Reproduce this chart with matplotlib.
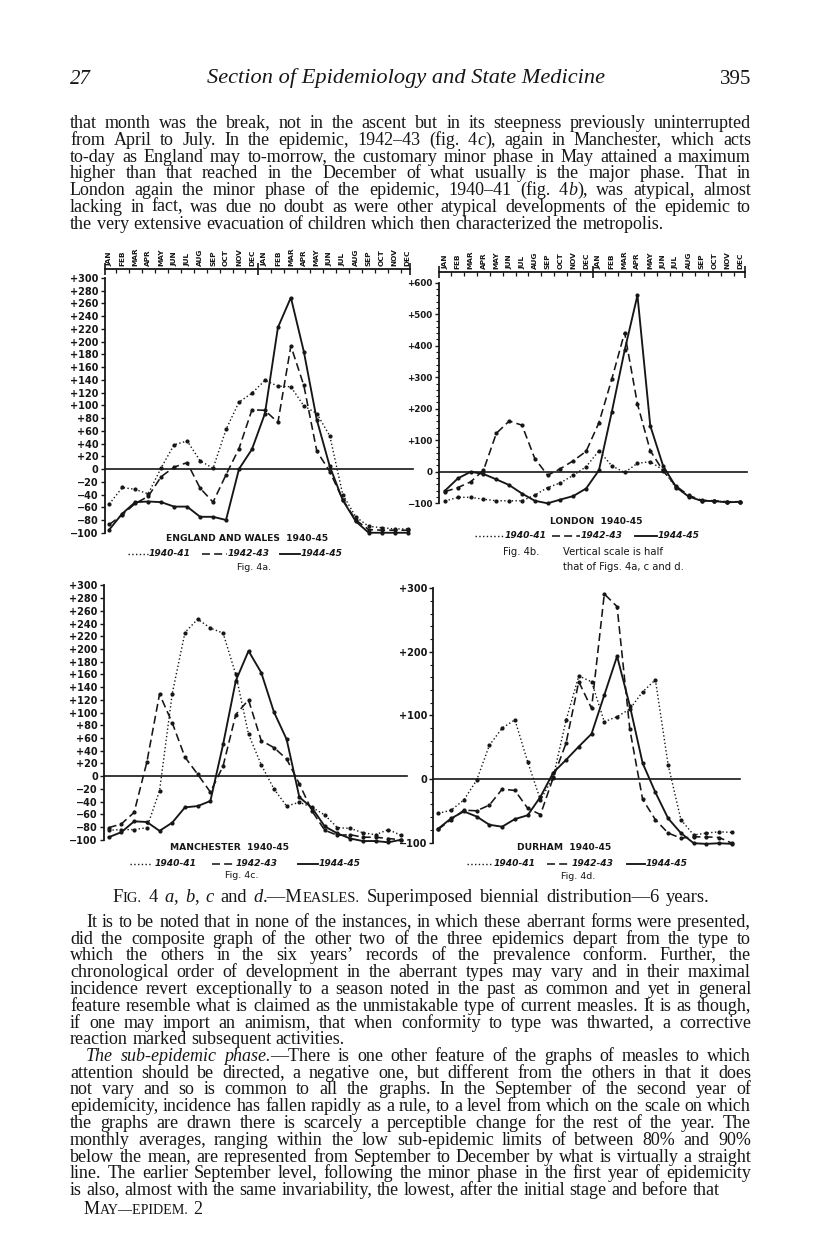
import matplotlib
matplotlib.use("Agg")
import matplotlib.pyplot as plt
from matplotlib.lines import Line2D
from matplotlib.ticker import FixedLocator

# ---------------- data ----------------
months = ["JAN", "FEB", "MAR", "APR", "MAY", "JUN", "JUL", "AUG", "SEP", "OCT", "NOV", "DEC"] * 2
years = ["1940-41", "1942-43", "1944-45"]

ew_1940_41 = [-55, -29, -32, -39, 2, 38, 44, 13, 1, 62, 105, 119, 139, 130, 129, 99, 87, 52, -40, -75, -90, -92, -94, -94]
ew_1942_43 = [-87, -72, -54, -43, -12, 3, 10, -30, -52, -9, 32, 93, 92, 73, 193, 131, 28, -4, -48, -80, -95, -96, -96, -96]
ew_1944_45 = [-95, -70, -52, -51, -52, -59, -59, -75, -75, -80, 0, 31, 87, 222, 269, 184, 77, 4, -49, -82, -100, -100, -100, -100]

ldn_1940_41 = [-93, -81, -81, -87, -92, -92, -92, -74, -50, -35, -11, 16, 67, 19, -2, 27, 32, 6, -50, -78, -92, -93, -96, -95]
ldn_1942_43 = [-63, -50, -32, 5, 122, 161, 148, 42, -11, 10, 35, 65, 156, 294, 442, 215, 67, 3, -45, -75, -90, -92, -95, -95]
ldn_1944_45 = [-60, -21, 0, -7, -24, -42, -69, -92, -100, -88, -77, -53, 5, 190, 385, 560, 146, 19, -48, -79, -92, -93, -97, -95]

man_1940_41 = [-85, -84, -84, -81, -23, 130, 226, 247, 233, 225, 160, 66, 18, -20, -47, -41, -49, -61, -81, -82, -89, -92, -84, -93]
man_1942_43 = [-81, -75, -57, 22, 129, 84, 30, 3, -25, 16, 97, 120, 56, 45, 27, -12, -55, -85, -93, -92, -96, -96, -98, -100]
man_1944_45 = [-96, -88, -71, -72, -86, -73, -49, -47, -39, 50, 150, 197, 163, 101, 58, -33, -50, -79, -90, -98, -102, -102, -104, -100]

dur_1940_41 = [-54, -49, -33, -2, 53, 80, 93, 27, -33, 3, 92, 162, 153, 90, 98, 110, 137, 156, 22, -64, -88, -85, -83, -84]
dur_1942_43 = [-79, -64, -49, -50, -41, -16, -18, -46, -56, 2, 56, 153, 111, 291, 271, 78, -32, -64, -85, -93, -91, -91, -92, -101]
dur_1944_45 = [-78, -62, -51, -59, -72, -75, -63, -57, -28, 10, 30, 51, 71, 132, 193, 115, 25, -21, -62, -85, -101, -102, -101, -102]

panel_titles = ["ENGLAND AND WALES  1940-45", "LONDON  1940-45", "MANCHESTER  1940-45", "DURHAM  1940-45"]
fig_labels = ["Fig. 4a.", "Fig. 4b.", "Fig. 4c.", "Fig. 4d."]

# ---------------- page set-up ----------------
W, H = 816, 1260
INK = "#161616"
SANS = "DejaVu Sans"
BODY = "Liberation Serif"
HEAD = "Liberation Serif"

fig = plt.figure(figsize=(W / 100, H / 100), dpi=100)
fig.patch.set_facecolor("white")
renderer = fig.canvas.get_renderer()


def fx(x):
    return x / W


def fy(y):
    return 1 - y / H


styles = {
    "1940-41": dict(ls=(0, (1.0, 1.7)), lw=1.0),
    "1942-43": dict(ls=(0, (5.0, 2.6)), lw=1.15),
    "1944-45": dict(ls="-", lw=1.35),
}


def fmt(v):
    if v == 0:
        return "0"
    return ("+%d" % v) if v > 0 else ("\u2212%d" % -v)


def panel(left, right, zero_px, scale, x0, dx, ylo, yhi, spine_top, month_axis,
          major, minor, lab_size, zero_right):
    top = zero_px - yhi * scale
    bottom = zero_px - ylo * scale
    ax = fig.add_axes([fx(left), fy(bottom), (right - left) / W, (bottom - top) / H])
    ax.set_xlim((left - x0) / dx, (right - x0) / dx)
    ax.set_ylim(ylo, yhi)
    ax.patch.set_alpha(0)
    ax.spines["right"].set_visible(False)
    ax.spines["bottom"].set_visible(False)
    ax.spines["left"].set_bounds(-100, spine_top)
    ax.spines["left"].set_linewidth(1.3)
    ax.spines["left"].set_color(INK)
    ax.yaxis.set_major_locator(FixedLocator(major))
    ax.set_yticklabels([fmt(v) for v in major], fontsize=lab_size, fontweight="bold",
                       family=SANS, color=INK)
    ax.tick_params(axis="y", which="major", direction="out", length=3, width=1.0,
                   colors=INK, pad=1.5)
    if minor:
        ax.yaxis.set_minor_locator(FixedLocator(minor))
        ax.tick_params(axis="y", which="minor", direction="out", length=2, width=0.8, colors=INK)
    if month_axis:
        ax.spines["top"].set_linewidth(1.3)
        ax.spines["top"].set_color(INK)
        ax.xaxis.set_ticks_position("top")
        xl = ax.get_xlim()
        ax.xaxis.set_major_locator(FixedLocator([xl[0] + 0.02, 11.5, xl[1] - 0.02]))
        ax.xaxis.set_minor_locator(FixedLocator([i + 0.5 for i in range(23) if i != 11]))
        ax.tick_params(axis="x", which="major", direction="inout", length=9, width=1.2,
                       colors=INK, labeltop=False, labelbottom=False, top=True, bottom=False)
        ax.tick_params(axis="x", which="minor", direction="in", length=3, width=0.9,
                       colors=INK, top=True, bottom=False)
        for i, m in enumerate(months):
            ax.annotate(m, xy=(i, 1), xycoords=("data", "axes fraction"), xytext=(0, 2.2),
                        textcoords="offset points", rotation=90, ha="center", va="bottom",
                        fontsize=5.3, fontweight="bold", family=SANS, color=INK)
    else:
        ax.spines["top"].set_visible(False)
        ax.set_xticks([])
    ax.axhline(0, xmin=0, xmax=(zero_right - left) / (right - left), color=INK, lw=1.2,
               clip_on=False)
    return ax


def draw_series(ax, series):
    for key, vals in zip(years, series):
        st = styles[key]
        ax.plot(range(len(vals)), vals, color=INK, ls=st["ls"], lw=st["lw"], marker="o",
                ms=2.0, mfc=INK, mec=INK, clip_on=False, solid_joinstyle="miter")


# Panel a: England and Wales
ax_a = panel(105, 410, 469.0, 0.6375, 109.3, 12.97, -100, 314, 300, True,
             list(range(-100, 301, 20)), None, 7, 413)
draw_series(ax_a, [ew_1940_41, ew_1942_43, ew_1944_45])

# Panel b: London (half vertical scale)
ax_b = panel(439, 745, 471.8, 0.3151, 445.0, 12.83, -100, 634, 600, True,
             list(range(-100, 601, 100)), list(range(-100, 601, 20)), 6.3, 747)
draw_series(ax_b, [ldn_1940_41, ldn_1942_43, ldn_1944_45])

# Panel c: Manchester
ax_c = panel(104, 401, 776.2, 0.6358, 108.7, 12.71, -108, 300, 300, False,
             list(range(-100, 301, 20)), None, 7, 407)
draw_series(ax_c, [man_1940_41, man_1942_43, man_1944_45])

# Panel d: Durham
ax_d = panel(433.3, 734, 779.0, 0.636, 438.3, 12.77, -108, 300, 300, False,
             list(range(-100, 301, 100)), list(range(-100, 301, 20)), 7, 740)
draw_series(ax_d, [dur_1940_41, dur_1942_43, dur_1944_45])


# ---------------- chart annotations ----------------
def ftext(x, y, s, **kw):
    kw.setdefault("color", INK)
    fig.text(fx(x), fy(y), s, **kw)


def legend_row(y, items):
    for (xs, xe, tx), key in zip(items, years):
        st = styles[key]
        fig.add_artist(Line2D([fx(xs), fx(xe)], [fy(y), fy(y)], transform=fig.transFigure,
                              color=INK, lw=st["lw"], ls=st["ls"]))
        ftext(tx, y, key, ha="left", va="center", fontsize=6.6, fontstyle="italic",
              fontweight="bold", family=SANS)


tkw = dict(ha="center", va="center", fontsize=6.6, fontweight="bold", family=SANS)
ftext(247, 538.5, panel_titles[0], **tkw)
legend_row(553.5, [(128, 148, 149), (202, 227, 228), (280, 300, 301)])
ftext(254, 567, fig_labels[0], ha="center", va="center", fontsize=6.8, family=SANS)

ftext(596, 521, panel_titles[1], **tkw)
legend_row(535.5, [(475, 503, 505), (552, 580, 581), (635, 657, 658)])
ftext(503, 552, fig_labels[1], ha="left", va="center", fontsize=7.2, family=SANS)
ftext(563, 552, "Vertical scale is half", ha="left", va="center", fontsize=7.2, family=SANS)
ftext(563, 566.5, "that of Figs. 4a, c and d.", ha="left", va="center", fontsize=7.2, family=SANS)

ftext(229, 847, panel_titles[2], **tkw)
legend_row(863.5, [(130, 152, 155), (212, 235, 236), (298, 318, 319)])
ftext(242, 875.5, fig_labels[2], ha="center", va="center", fontsize=6.8, family=SANS)

ftext(564, 847, panel_titles[3], **tkw)
legend_row(863.5, [(467, 492, 494), (547, 570, 572), (627, 645, 646)])
ftext(578, 876.5, fig_labels[3], ha="center", va="center", fontsize=6.8, family=SANS)

# ---------------- page text ----------------
_cache = {}


def tw(s, size, style="normal", family=BODY):
    k = (s, round(size, 3), style, family)
    if k not in _cache:
        t = fig.text(0, 0, s, fontsize=size, fontstyle=style, family=family)
        _cache[k] = t.get_window_extent(renderer=renderer).width
        t.remove()
    return _cache[k]


def parse_line(line):
    words, cur, buf = [], [], ""
    italic = sc = False
    for ch in line:
        if ch in "_^ ":
            if buf:
                cur.append((buf, italic, sc))
                buf = ""
            if ch == "_":
                italic = not italic
            elif ch == "^":
                sc = not sc
            elif cur:
                words.append(cur)
                cur = []
        else:
            buf += ch
    if buf:
        cur.append((buf, italic, sc))
    if cur:
        words.append(cur)
    return words


def run_props(run, size):
    txt, it, sc = run
    return (txt.upper() if sc else txt), (size * 0.78 if sc else size), ("italic" if it else "normal")


def word_w(word, size):
    return sum(tw(*run_props(r, size)) for r in word)


def space_w(size):
    return tw("n n", size) - tw("nn", size)


def snap(y):
    # keep every word of a line on the same pixel baseline
    return round(y) - 0.45


def draw_line(line, x0, x1, ybase, size, justify):
    words = parse_line(line)
    widths = [word_w(w, size) for w in words]
    if justify and len(words) > 1:
        gap = (x1 - x0 - sum(widths)) / (len(words) - 1)
    else:
        gap = space_w(size)
    yb = snap(ybase)
    x = x0
    for w, wd in zip(words, widths):
        xx = x
        for r in w:
            txt, sz, st = run_props(r, size)
            fig.text(fx(xx), fy(yb), txt, fontsize=sz, fontstyle=st, family=BODY,
                     ha="left", va="baseline", color=INK)
            xx += tw(txt, sz, st)
        x += wd + gap


def line_width(line, size):
    words = parse_line(line)
    return sum(word_w(w, size) for w in words) + (len(words) - 1) * space_w(size)


para1 = [
    "that month was the break, not in the ascent but in its steepness previously uninterrupted",
    "from April to July.  In the epidemic, 1942\u201343 (fig. 4_c_), again in Manchester, which acts",
    "to-day as England may to-morrow, the customary minor phase in May attained a maximum",
    "higher than that reached in the December of what usually is the major phase.  That in",
    "London again the minor phase of the epidemic, 1940\u201341 (fig. 4_b_), was atypical, almost",
    "lacking in fact, was due no doubt as were other atypical developments of the epidemic to",
    "the very extensive evacuation of children which then characterized the metropolis.",
]
para2 = [
    "It is to be noted that in none of the instances, in which these aberrant forms were presented,",
    "did the composite graph of the other two of the three epidemics depart from  the type to",
    "which the others in the six years\u2019 records of the prevalence conform.  Further, the",
    "chronological order of development in the aberrant types may vary and in their maximal",
    "incidence revert exceptionally to a season noted in the past as common and yet in general",
    "feature resemble what is claimed as the unmistakable type of current measles.  It is as though,",
    "if one may import an animism, that when conformity to type was thwarted, a corrective",
    "reaction marked subsequent activities.",
]
para3 = [
    "_The sub-epidemic phase._\u2014There is one other feature of the graphs of measles to which",
    "attention should be directed, a negative one, but different from the others in that it does",
    "not vary and so is common to all the graphs.  In the September of the second year of",
    "epidemicity, incidence has fallen rapidly as a rule, to a level from which on the scale on which",
    "the graphs are drawn there is scarcely a perceptible change for the rest of the year.  The",
    "monthly averages, ranging within the low sub-epidemic limits of between 80% and 90%",
    "below the mean, are represented from September to December by what is virtually a straight",
    "line.  The earlier September level, following the minor phase in the first year of epidemicity",
    "is also, almost with the same invariability, the lowest, after the initial stage and before that",
]
caption = "F^IG.^ 4 _a_, _b_, _c_ and _d_.\u2014M^EASLES.^  Superimposed biennial distribution\u20146 years."
footer = "M^AY\u2014EPIDEM.^ 2"

LEFT, RIGHT, INDENT = 70, 751, 16
# paragraphs: (lines, first-line indent, first baseline, leading)
paragraphs = [(para1, 0, 127.6, 16.95), (para2, INDENT, 927.0, 16.75),
              (para3, INDENT, 927.0 + 8 * 16.75, 16.75)]

# fit body size so that the tightest justified line has normal word spaces
base = 12.0
ratios = []
for lines, ind, _, _ in paragraphs:
    for k, ln in enumerate(lines[:-1]):
        tgt = RIGHT - LEFT - (ind if k == 0 else 0)
        ratios.append(tgt / line_width(ln, base))
SIZE = base * min(ratios) * 0.995

for lines, ind, y0, lead in paragraphs:
    for k, ln in enumerate(lines):
        x0 = LEFT + (ind if k == 0 else 0)
        draw_line(ln, x0, RIGHT, y0 + k * lead, SIZE, justify=(k < len(lines) - 1))

# caption, set a little wider than its natural measure
CSIZE = SIZE * 1.03
draw_line(caption, 112, 710, 901.5, CSIZE, justify=True)
# footer
draw_line(footer, 84, RIGHT, 1213.5, SIZE, justify=False)

# running head
title = "Section of Epidemiology and State Medicine"
hsize = 15.0 * 398 / tw(title, 15.0, "italic", HEAD)
ftext(406, 83.5, title, ha="center", va="baseline", fontsize=hsize, fontstyle="italic", family=HEAD)
ftext(70, 83.5, "27", ha="left", va="baseline", fontsize=15, fontstyle="italic", family=HEAD)
ftext(751, 83.5, "395", ha="right", va="baseline", fontsize=15, family=HEAD)

fig.savefig("out.png", dpi=100, facecolor="white")
